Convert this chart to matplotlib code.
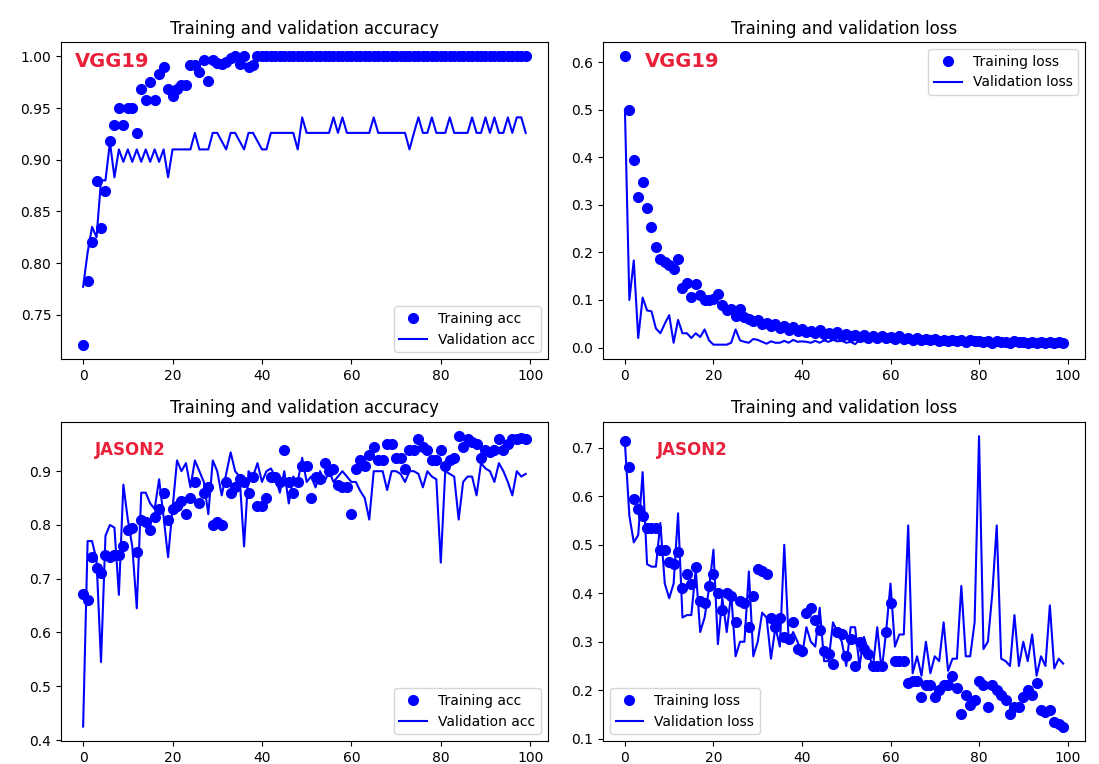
import matplotlib
matplotlib.use("Agg")
import matplotlib.pyplot as plt

epochs = list(range(100))

# VGG19 accuracy
vgg_train_acc = [
    0.721, 0.783, 0.820, 0.879, 0.834, 0.870, 0.918, 0.934, 0.950, 0.934,
    0.950, 0.950, 0.926, 0.968, 0.958, 0.975, 0.958, 0.983, 0.990, 0.968,
    0.962, 0.968, 0.972, 0.972, 0.992, 0.992, 0.985, 0.997, 0.976, 0.997,
    0.994, 0.993, 0.995, 0.998, 1.000, 0.993, 1.000, 0.990, 0.992, 1.000,
    1.000, 1.000, 1.000, 1.000, 1.000, 1.000, 1.000, 1.000, 1.000, 1.000,
    1.000, 1.000, 1.000, 1.000, 1.000, 1.000, 1.000, 1.000, 1.000, 1.000,
    1.000, 1.000, 1.000, 1.000, 1.000, 1.000, 1.000, 1.000, 1.000, 1.000,
    1.000, 1.000, 1.000, 1.000, 1.000, 1.000, 1.000, 1.000, 1.000, 1.000,
    1.000, 1.000, 1.000, 1.000, 1.000, 1.000, 1.000, 1.000, 1.000, 1.000,
    1.000, 1.000, 1.000, 1.000, 1.000, 1.000, 1.000, 1.000, 1.000, 1.000,
]
vgg_val_acc = [
    0.777, 0.810, 0.835, 0.825, 0.880, 0.880, 0.917, 0.883, 0.910, 0.898,
    0.910, 0.898, 0.910, 0.898, 0.910, 0.898, 0.910, 0.898, 0.910, 0.883,
    0.910, 0.910, 0.910, 0.910, 0.910, 0.926, 0.910, 0.910, 0.910, 0.926,
    0.926, 0.918, 0.910, 0.926, 0.926, 0.918, 0.910, 0.926, 0.926, 0.918,
    0.910, 0.910, 0.926, 0.926, 0.926, 0.926, 0.926, 0.926, 0.910, 0.941,
    0.926, 0.926, 0.926, 0.926, 0.926, 0.926, 0.941, 0.926, 0.941, 0.926,
    0.926, 0.926, 0.926, 0.926, 0.926, 0.941, 0.926, 0.926, 0.926, 0.926,
    0.926, 0.926, 0.926, 0.910, 0.926, 0.941, 0.926, 0.926, 0.941, 0.926,
    0.926, 0.926, 0.941, 0.926, 0.926, 0.926, 0.926, 0.941, 0.926, 0.926,
    0.941, 0.926, 0.941, 0.926, 0.926, 0.941, 0.926, 0.941, 0.941, 0.926,
]

# VGG19 loss
vgg_train_loss = [
    0.612, 0.500, 0.395, 0.316, 0.347, 0.294, 0.254, 0.211, 0.187, 0.180,
    0.173, 0.165, 0.186, 0.125, 0.135, 0.106, 0.133, 0.110, 0.100, 0.100,
    0.102, 0.112, 0.090, 0.078, 0.082, 0.066, 0.080, 0.064, 0.060, 0.056,
    0.057, 0.050, 0.052, 0.045, 0.050, 0.040, 0.046, 0.036, 0.043, 0.035,
    0.038, 0.032, 0.034, 0.030, 0.036, 0.028, 0.030, 0.026, 0.032, 0.025,
    0.028, 0.024, 0.026, 0.022, 0.027, 0.021, 0.024, 0.020, 0.025, 0.019,
    0.022, 0.018, 0.024, 0.017, 0.020, 0.016, 0.019, 0.015, 0.018, 0.016,
    0.017, 0.014, 0.016, 0.013, 0.016, 0.014, 0.015, 0.012, 0.015, 0.013,
    0.014, 0.011, 0.013, 0.010, 0.014, 0.011, 0.012, 0.010, 0.013, 0.011,
    0.012, 0.010, 0.012, 0.009, 0.011, 0.010, 0.012, 0.009, 0.011, 0.010,
]
vgg_val_loss = [
    0.500, 0.100, 0.183, 0.020, 0.105, 0.078, 0.076, 0.040, 0.030, 0.050,
    0.068, 0.010, 0.058, 0.030, 0.030, 0.020, 0.030, 0.022, 0.038, 0.015,
    0.006, 0.006, 0.006, 0.006, 0.010, 0.038, 0.015, 0.012, 0.010, 0.018,
    0.016, 0.012, 0.008, 0.013, 0.010, 0.010, 0.014, 0.010, 0.016, 0.012,
    0.013, 0.012, 0.010, 0.014, 0.010, 0.015, 0.012, 0.016, 0.013, 0.014,
    0.010, 0.012, 0.007, 0.016, 0.018, 0.017, 0.020, 0.018, 0.015, 0.022,
    0.016, 0.014, 0.018, 0.007, 0.012, 0.017, 0.016, 0.013, 0.014, 0.012,
    0.014, 0.012, 0.013, 0.011, 0.012, 0.013, 0.011, 0.012, 0.010, 0.012,
    0.011, 0.010, 0.012, 0.011, 0.010, 0.011, 0.012, 0.010, 0.011, 0.009,
    0.010, 0.011, 0.010, 0.009, 0.011, 0.010, 0.009, 0.010, 0.011, 0.010,
]

# JASON2 accuracy
jason_train_acc = [
    0.672, 0.660, 0.740, 0.720, 0.710, 0.745, 0.740, 0.745, 0.745, 0.760,
    0.790, 0.795, 0.750, 0.810, 0.805, 0.790, 0.815, 0.830, 0.860, 0.810,
    0.830, 0.835, 0.845, 0.820, 0.850, 0.880, 0.840, 0.860, 0.870, 0.800,
    0.805, 0.800, 0.880, 0.860, 0.870, 0.885, 0.880, 0.860, 0.890, 0.835,
    0.835, 0.850, 0.890, 0.890, 0.880, 0.940, 0.880, 0.860, 0.880, 0.910,
    0.910, 0.850, 0.890, 0.885, 0.915, 0.900, 0.905, 0.875, 0.870, 0.870,
    0.820, 0.905, 0.920, 0.910, 0.930, 0.945, 0.920, 0.920, 0.950, 0.950,
    0.925, 0.925, 0.905, 0.940, 0.940, 0.960, 0.945, 0.940, 0.920, 0.920,
    0.940, 0.910, 0.920, 0.925, 0.965, 0.945, 0.960, 0.955, 0.950, 0.925,
    0.940, 0.935, 0.940, 0.960, 0.940, 0.950, 0.960, 0.960, 0.962, 0.960,
]
jason_val_acc = [
    0.425, 0.770, 0.770, 0.735, 0.545, 0.780, 0.800, 0.795, 0.670, 0.875,
    0.810, 0.760, 0.645, 0.860, 0.860, 0.840, 0.830, 0.885, 0.815, 0.740,
    0.830, 0.920, 0.900, 0.915, 0.870, 0.920, 0.900, 0.880, 0.820, 0.920,
    0.900, 0.855, 0.895, 0.935, 0.900, 0.890, 0.760, 0.900, 0.890, 0.915,
    0.880, 0.900, 0.905, 0.890, 0.860, 0.900, 0.840, 0.890, 0.880, 0.925,
    0.880, 0.890, 0.870, 0.900, 0.880, 0.900, 0.880, 0.890, 0.900, 0.890,
    0.880, 0.880, 0.863, 0.850, 0.810, 0.900, 0.900, 0.900, 0.865, 0.900,
    0.900, 0.895, 0.880, 0.900, 0.900, 0.895, 0.870, 0.900, 0.890, 0.885,
    0.730, 0.900, 0.895, 0.890, 0.810, 0.880, 0.890, 0.890, 0.855, 0.915,
    0.905, 0.900, 0.880, 0.915, 0.900, 0.880, 0.855, 0.900, 0.890, 0.895,
]

# JASON2 loss
jason_train_loss = [
    0.714, 0.660, 0.595, 0.573, 0.560, 0.535, 0.535, 0.535, 0.490, 0.490,
    0.465, 0.460, 0.485, 0.410, 0.440, 0.420, 0.455, 0.385, 0.380, 0.415,
    0.440, 0.400, 0.365, 0.400, 0.395, 0.340, 0.385, 0.380, 0.330, 0.395,
    0.450, 0.445, 0.440, 0.350, 0.330, 0.350, 0.310, 0.305, 0.340, 0.285,
    0.280, 0.360, 0.370, 0.345, 0.325, 0.280, 0.275, 0.255, 0.320, 0.315,
    0.270, 0.305, 0.250, 0.300, 0.285, 0.275, 0.250, 0.250, 0.250, 0.320,
    0.380, 0.260, 0.260, 0.260, 0.215, 0.220, 0.220, 0.185, 0.210, 0.210,
    0.185, 0.200, 0.210, 0.210, 0.230, 0.205, 0.150, 0.190, 0.170, 0.180,
    0.220, 0.210, 0.165, 0.210, 0.200, 0.190, 0.180, 0.150, 0.165, 0.165,
    0.185, 0.200, 0.190, 0.215, 0.160, 0.155, 0.160, 0.135, 0.130, 0.125,
]
jason_val_loss = [
    0.710, 0.560, 0.505, 0.520, 0.650, 0.460, 0.455, 0.455, 0.545, 0.420,
    0.390, 0.420, 0.565, 0.350, 0.355, 0.355, 0.450, 0.320, 0.350, 0.410,
    0.490, 0.295, 0.390, 0.320, 0.400, 0.270, 0.300, 0.300, 0.445, 0.270,
    0.300, 0.360, 0.350, 0.265, 0.330, 0.290, 0.500, 0.300, 0.320, 0.300,
    0.270, 0.330, 0.300, 0.290, 0.370, 0.260, 0.260, 0.340, 0.320, 0.300,
    0.250, 0.330, 0.330, 0.250, 0.310, 0.280, 0.245, 0.330, 0.240, 0.320,
    0.420, 0.290, 0.315, 0.315, 0.540, 0.235, 0.270, 0.230, 0.300, 0.235,
    0.270, 0.260, 0.340, 0.240, 0.265, 0.265, 0.415, 0.270, 0.270, 0.340,
    0.724, 0.285, 0.300, 0.400, 0.540, 0.265, 0.260, 0.250, 0.355, 0.250,
    0.300, 0.260, 0.315, 0.230, 0.270, 0.250, 0.375, 0.245, 0.265, 0.255,
]

LABEL_RED = '#e8203a'


def draw_panel(ax, train, val, kind, title, tag, tag_xy, tag_size, legend_loc):
    ax.plot(epochs, train, 'bo', markersize=7, label='Training ' + kind)
    ax.plot(epochs, val, 'b', linewidth=1.5, label='Validation ' + kind)
    ax.set_title(title, fontsize=12)
    ax.text(tag_xy[0], tag_xy[1], tag, transform=ax.transAxes, color=LABEL_RED,
            fontsize=tag_size, fontweight='bold', ha='left', va='center')
    ax.legend(loc=legend_loc, fontsize=10)
    ax.tick_params(labelsize=10)


fig = plt.figure(figsize=(10.99, 7.64), dpi=100)
ax1 = fig.add_axes([0.0555, 0.530, 0.443, 0.415])
ax2 = fig.add_axes([0.5487, 0.530, 0.4386, 0.415])
ax3 = fig.add_axes([0.0555, 0.030, 0.443, 0.418])
ax4 = fig.add_axes([0.5487, 0.030, 0.4386, 0.418])

draw_panel(ax1, vgg_train_acc, vgg_val_acc, 'acc', 'Training and validation accuracy',
           'VGG19', (0.029, 0.937), 14, 'lower right')
draw_panel(ax2, vgg_train_loss, vgg_val_loss, 'loss', 'Training and validation loss',
           'VGG19', (0.087, 0.94), 14, 'upper right')
draw_panel(ax3, jason_train_acc, jason_val_acc, 'acc', 'Training and validation accuracy',
           'JASON2', (0.07, 0.912), 12, 'lower right')
draw_panel(ax4, jason_train_loss, jason_val_loss, 'loss', 'Training and validation loss',
           'JASON2', (0.112, 0.912), 12, 'lower left')

fig.savefig('out.png', dpi=100)
